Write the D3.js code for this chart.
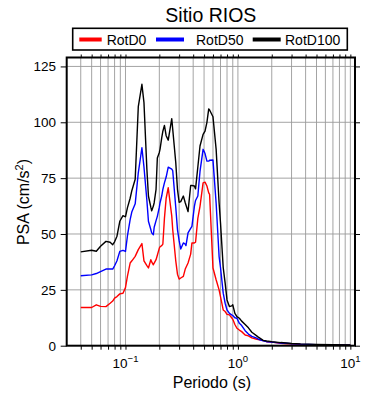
<!DOCTYPE html>
<html>
<head>
<meta charset="utf-8">
<script src="https://cdn.jsdelivr.net/npm/d3@7"></script>
<style>
body { margin: 0; background: #fff; }
svg { font-family: 'Liberation Sans', Arial, sans-serif; }
</style>
</head>
<body>
<div id="chart"></div>
<script>
// periodos (s)
const periods = [0.04, 0.05, 0.055, 0.06, 0.067, 0.073, 0.077, 0.08, 0.084, 0.089, 0.095, 0.1, 0.104, 0.11, 0.114, 0.122,
    0.13, 0.14, 0.146, 0.155, 0.16, 0.168, 0.171, 0.177, 0.18, 0.187, 0.192, 0.2, 0.203, 0.21, 0.215, 0.222, 0.23, 0.24,
    0.258, 0.263, 0.28, 0.29, 0.3, 0.31, 0.327, 0.34, 0.345, 0.36, 0.38, 0.39, 0.41, 0.42, 0.44, 0.46, 0.49, 0.51, 0.53,
    0.55, 0.56, 0.6, 0.64, 0.68, 0.7, 0.74, 0.77, 0.8, 0.84, 0.88, 0.9, 0.94, 0.98, 1.03, 1.08, 1.16, 1.24, 1.33, 1.47,
    1.52, 1.68, 1.8, 2.0, 2.4, 2.7, 3.0, 3.6, 5, 7, 10]
const rotD0 = [17.1, 17.1, 18.3, 17.6, 17.5, 19, 20, 21.3, 22, 23.2, 23.5, 26, 31, 37, 38, 40,
    43, 45.7, 38, 35.8, 34.8, 38.5, 37.5, 36.2, 37, 38.5, 40.5, 43.7, 44.3, 44.8, 45.5, 57, 66, 70.7,
    58, 52, 38, 32, 29.8, 30.3, 31, 34.3, 35, 37, 41, 46, 46, 46.3, 57, 62.4, 72.9, 73.2, 71.5,
    68.4, 67.7, 34.8, 29.5, 25, 22, 16, 15.3, 14, 13.8, 12.5, 11.8, 9.5, 7.8, 7, 6.3, 4.8, 4.4, 3.5, 2.9,
    2.8, 2.3, 1.8, 1.6, 1.1, 0.9, 0.8, 0.6, 0.4, 0.3, 0.2]
const rotD50 = [31.3, 31.7, 32.3, 33.2, 34.3, 34.3, 34.3, 35.8, 38, 42.2, 42.7, 42.2, 49, 56.4, 60, 63.5,
    77.4, 88.6, 80, 65, 55.7, 52, 50.5, 49.7, 53, 56, 57.9, 62, 64, 67, 70, 72.9, 75.5, 79.9,
    79, 78.4, 62, 52, 47, 43.3, 46, 45.5, 44.8, 50.5, 52.5, 53.4, 62.4, 65, 67, 78, 87.9, 86, 82.6,
    82.6, 83, 83.1, 63.9, 40, 35, 23.5, 19, 16, 14.5, 13.8, 13.5, 12.5, 12.3, 10, 9, 6.7, 5.2, 4.2, 3.4,
    2.9, 2.2, 1.8, 1.6, 1.2, 1.1, 0.9, 0.7, 0.5, 0.35, 0.25]
const rotD100 = [42, 42.7, 42.3, 44.5, 46.7, 46.3, 45.2, 46.5, 49, 55.7, 58.2, 57.7, 61.7, 66, 69.5, 74.5,
    107, 117, 108.8, 79, 67, 62, 60.4, 62.5, 64, 70, 84, 86.5, 88, 93, 96, 98.6, 94, 92,
    101.6, 97, 82, 70, 64.2, 64.5, 67, 64, 63, 60, 71.7, 71.7, 71.5, 70.2, 80, 89.4, 94.6, 96, 100,
    106, 105.5, 102.5, 88, 64, 55, 35, 28, 20.5, 17.5, 17.8, 18.3, 14.5, 13, 12.3, 11, 9.5, 8, 6, 4.4,
    3.8, 2.4, 2.1, 1.8, 1.4, 1.2, 1.0, 0.8, 0.6, 0.4, 0.3]
const seriesNames = ['RotD0', 'RotD50', 'RotD100']
const seriesColors = ['#ff0000', '#0000ff', '#000000']
const yTicks = [0, 25, 50, 75, 100, 125]
const xMajor = [0.1, 1, 10]
const xExponents = ['\u22121', '0', '1']

const width = 390, height = 400
const mLeft = 66.7, mRight = 355, mTop = 57.5, mBottom = 345.7

const svg = d3.select('#chart').append('svg').attr('width', width).attr('height', height)
const x = d3.scaleLog().domain([0.03, 11]).range([mLeft, mRight])
const y = d3.scaleLinear().domain([0, 129]).range([mBottom, mTop])
const xGrid = x.ticks().filter((d) => d > 0.031)

// rejilla
svg.append('g').selectAll('line').data(xGrid).enter().append('line').
    attr('x1', (d) => x(d)).attr('x2', (d) => x(d)).attr('y1', mTop).attr('y2', mBottom).
    attr('stroke', '#9a9a9a').attr('stroke-width', 0.9)
svg.append('g').selectAll('line').data(yTicks.slice(1)).enter().append('line').
    attr('x1', mLeft).attr('x2', mRight).attr('y1', (d) => y(d)).attr('y2', (d) => y(d)).
    attr('stroke', '#9a9a9a').attr('stroke-width', 0.9)

// curvas
const series = [rotD0, rotD50, rotD100]
const lineGen = d3.line().x((d, i) => x(periods[i])).y((d) => y(d))
svg.append('g').selectAll('path').data(series).enter().append('path').
    attr('d', (d) => lineGen(d)).attr('fill', 'none').
    attr('stroke', (d, i) => seriesColors[i]).attr('stroke-width', 1.4).attr('stroke-linejoin', 'round')

// ejes
const axisStyle = (g) => { g.select('.domain').remove(); g.selectAll('line').attr('stroke', '#000').attr('stroke-width', 1) }
svg.append('g').attr('transform', `translate(0,${mBottom})`).
    call(d3.axisBottom(x).tickValues(xGrid).tickSize(4).tickFormat('')).call(axisStyle)
svg.append('g').attr('transform', `translate(0,${mTop})`).
    call(d3.axisTop(x).tickValues(xGrid).tickSize(3).tickFormat('')).call(axisStyle)
svg.append('g').attr('transform', `translate(${mLeft},0)`).
    call(d3.axisLeft(y).tickValues(yTicks).tickSize(6).tickFormat('')).call(axisStyle)
svg.append('g').attr('transform', `translate(${mRight},0)`).
    call(d3.axisRight(y).tickValues(yTicks).tickSize(5).tickFormat('')).call(axisStyle)

svg.append('g').selectAll('text').data(yTicks).enter().append('text').
    attr('x', 56).attr('y', (d) => y(d)).attr('dy', '0.36em').attr('text-anchor', 'end').
    attr('font-size', 13.5).text((d) => d)

const xl = svg.append('g').selectAll('text').data(xMajor).enter().append('text').
    attr('x', (d) => x(d)).attr('y', 367.5).attr('text-anchor', 'middle').attr('font-size', 13.5)
xl.append('tspan').text('10')
xl.append('tspan').attr('dy', -6).attr('font-size', 9.5).text((d, i) => xExponents[i])

// marco
svg.append('rect').attr('x', mLeft).attr('y', mTop).attr('width', mRight - mLeft).attr('height', mBottom - mTop).
    attr('fill', 'none').attr('stroke', '#000').attr('stroke-width', 2)

// titulos
svg.append('text').attr('x', (mLeft + mRight) / 2).attr('y', 21.5).attr('text-anchor', 'middle').
    attr('font-size', 19.5).text('Sitio RIOS')
svg.append('text').attr('x', (mLeft + mRight) / 2 + 1).attr('y', 387.5).attr('text-anchor', 'middle').
    attr('font-size', 16).text('Periodo (s)')
const yl = svg.append('text').attr('transform', 'translate(29,202) rotate(-90)').attr('text-anchor', 'middle').
    attr('font-size', 16)
yl.append('tspan').text('PSA (cm/s')
yl.append('tspan').attr('dy', -6).attr('font-size', 11).text('2')
yl.append('tspan').attr('dy', 6).text(')')

// leyenda
const legendX = [79.3, 156, 252.7]
svg.append('rect').attr('x', 72.7).attr('y', 28.3).attr('width', 274.6).attr('height', 21.7).
    attr('fill', '#fff').attr('stroke', '#000').attr('stroke-width', 1.6)
const lg = svg.append('g').selectAll('g').data(seriesNames).enter().append('g').
    attr('transform', (d, i) => `translate(${legendX[i]},39.5)`)
lg.append('line').attr('x1', 0).attr('x2', (d, i) => i === 0 ? 22.4 : 28).attr('y1', 0).attr('y2', 0).
    attr('stroke', (d, i) => seriesColors[i]).attr('stroke-width', 4)
lg.append('text').attr('x', (d, i) => [27.4, 40, 32.3][i]).attr('y', 5).attr('font-size', 14).text((d) => d)
</script>
</body>
</html>
